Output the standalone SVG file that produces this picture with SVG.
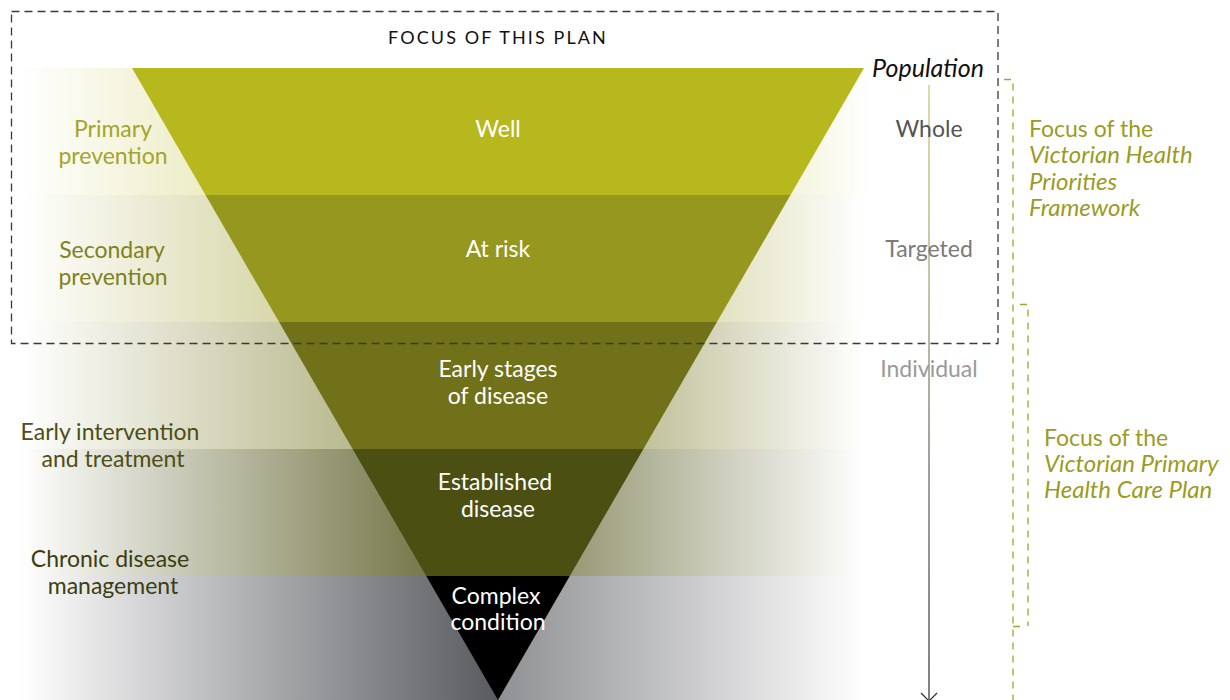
<svg xmlns="http://www.w3.org/2000/svg" width="1230" height="700" viewBox="0 0 1230 700">
  <defs>
    <style>
      .t { font-family: Lato, "Noto Sans", sans-serif; font-size: 23px; }
      .c { text-anchor: middle; }
      .w { fill: #ffffff; }
      .it { font-style: italic; font-size: 24px; }
      .focus { fill: #9a9c1f; }
      .dash-box { fill: none; stroke: #3a3a3a; stroke-width: 1.3; stroke-dasharray: 8 5; }
      .dash-g { fill: none; stroke: #a3a52a; stroke-width: 1.3; stroke-dasharray: 7 6; }
    </style>
    <linearGradient id="l1" gradientUnits="userSpaceOnUse" x1="20" y1="0" x2="498" y2="0">
      <stop offset="0" stop-color="#b7b81d" stop-opacity="0"/>
      <stop offset="1" stop-color="#b7b81d" stop-opacity="0.65"/>
    </linearGradient>
    <linearGradient id="r1" gradientUnits="userSpaceOnUse" x1="498" y1="0" x2="870" y2="0">
      <stop offset="0" stop-color="#b7b81d" stop-opacity="0.7"/>
      <stop offset="1" stop-color="#b7b81d" stop-opacity="0"/>
    </linearGradient>
    <linearGradient id="l2" gradientUnits="userSpaceOnUse" x1="20" y1="0" x2="498" y2="0">
      <stop offset="0" stop-color="#95971e" stop-opacity="0"/>
      <stop offset="1" stop-color="#95971e" stop-opacity="0.7"/>
    </linearGradient>
    <linearGradient id="r2" gradientUnits="userSpaceOnUse" x1="498" y1="0" x2="865" y2="0">
      <stop offset="0" stop-color="#95971e" stop-opacity="0.7"/>
      <stop offset="1" stop-color="#95971e" stop-opacity="0"/>
    </linearGradient>
    <linearGradient id="l3" gradientUnits="userSpaceOnUse" x1="20" y1="0" x2="498" y2="0">
      <stop offset="0" stop-color="#707118" stop-opacity="0"/>
      <stop offset="1" stop-color="#707118" stop-opacity="0.7"/>
    </linearGradient>
    <linearGradient id="r3" gradientUnits="userSpaceOnUse" x1="498" y1="0" x2="865" y2="0">
      <stop offset="0" stop-color="#707118" stop-opacity="0.72"/>
      <stop offset="1" stop-color="#707118" stop-opacity="0"/>
    </linearGradient>
    <linearGradient id="l4" gradientUnits="userSpaceOnUse" x1="20" y1="0" x2="498" y2="0">
      <stop offset="0" stop-color="#4b4f12" stop-opacity="0"/>
      <stop offset="1" stop-color="#4b4f12" stop-opacity="0.9"/>
    </linearGradient>
    <linearGradient id="r4" gradientUnits="userSpaceOnUse" x1="498" y1="0" x2="865" y2="0">
      <stop offset="0" stop-color="#4b4f12" stop-opacity="0.72"/>
      <stop offset="1" stop-color="#4b4f12" stop-opacity="0"/>
    </linearGradient>
    <linearGradient id="l5" gradientUnits="userSpaceOnUse" x1="20" y1="0" x2="498" y2="0">
      <stop offset="0" stop-color="#1e2126" stop-opacity="0"/>
      <stop offset="1" stop-color="#1e2126" stop-opacity="0.74"/>
    </linearGradient>
    <linearGradient id="r5" gradientUnits="userSpaceOnUse" x1="498" y1="0" x2="865" y2="0">
      <stop offset="0" stop-color="#1e2126" stop-opacity="0.5"/>
      <stop offset="1" stop-color="#1e2126" stop-opacity="0"/>
    </linearGradient>
    <linearGradient id="popline" gradientUnits="userSpaceOnUse" x1="0" y1="85" x2="0" y2="700">
      <stop offset="0" stop-color="#c4c55a"/>
      <stop offset="0.35" stop-color="#9a9a6a"/>
      <stop offset="0.55" stop-color="#6a6a62"/>
      <stop offset="1" stop-color="#2a2a2a"/>
    </linearGradient>
  </defs>

  <rect width="1230" height="700" fill="#ffffff"/>

  <!-- background bands -->
  <g id="bands">
    <rect x="20" y="68" width="478" height="127" fill="url(#l1)"/>
    <rect x="498" y="68" width="372" height="127" fill="url(#r1)"/>
    <rect x="20" y="195" width="478" height="127" fill="url(#l2)"/>
    <rect x="498" y="195" width="367" height="127" fill="url(#r2)"/>
    <rect x="20" y="322" width="478" height="127" fill="url(#l3)"/>
    <rect x="498" y="322" width="367" height="127" fill="url(#r3)"/>
    <rect x="20" y="449" width="478" height="127" fill="url(#l4)"/>
    <rect x="498" y="449" width="367" height="127" fill="url(#r4)"/>
    <rect x="20" y="576" width="478" height="124" fill="url(#l5)"/>
    <rect x="498" y="576" width="367" height="124" fill="url(#r5)"/>
  </g>

  <!-- triangle segments -->
  <g id="well">
    <polygon points="132,68 864,68 790.5,195 205.5,195" fill="#b7b81d"/>
    <text class="t c w" x="498" y="137">Well</text>
  </g>
  <g id="at-risk">
    <polygon points="205.5,195 790.5,195 716.9,322 279.1,322" fill="#95971e"/>
    <text class="t c w" x="498" y="257">At risk</text>
  </g>
  <g id="early-stages">
    <polygon points="279.1,322 716.9,322 643.4,449 352.6,449" fill="#707118"/>
    <text class="t c w" x="498" y="377">Early stages</text>
    <text class="t c w" x="498" y="404">of disease</text>
  </g>
  <g id="established">
    <polygon points="352.6,449 643.4,449 569.8,576 426.2,576" fill="#4b4f12"/>
    <text class="t c w" x="495" y="490">Established</text>
    <text class="t c w" x="498" y="517">disease</text>
  </g>
  <g id="complex">
    <polygon points="426.2,576 569.8,576 498,700" fill="#000000"/>
    <text class="t c w" x="496" y="604">Complex</text>
    <text class="t c w" x="498" y="630">condition</text>
  </g>

  <!-- left labels -->
  <g id="primary-prevention">
    <text class="t c" x="113" y="137" fill="#a3a52b">Primary</text>
    <text class="t c" x="113" y="164" fill="#a3a52b">prevention</text>
  </g>
  <g id="secondary-prevention">
    <text class="t c" x="112" y="258" fill="#7f821d">Secondary</text>
    <text class="t c" x="113" y="285" fill="#7f821d">prevention</text>
  </g>
  <g id="early-intervention">
    <text class="t c" x="110" y="440" fill="#4c4f16">Early intervention</text>
    <text class="t c" x="113" y="467" fill="#4c4f16">and treatment</text>
  </g>
  <g id="chronic-disease">
    <text class="t c" x="110" y="567" fill="#3b3e12">Chronic disease</text>
    <text class="t c" x="113" y="594" fill="#3b3e12">management</text>
  </g>

  <!-- focus of this plan box -->
  <g id="focus-plan">
    <rect class="dash-box" x="11.5" y="11.5" width="986.5" height="332"/>
    <text x="498" y="44" text-anchor="middle" font-family="Lato, 'Noto Sans', sans-serif" font-size="18" letter-spacing="2.1" fill="#111111">FOCUS OF THIS PLAN</text>
  </g>

  <!-- connectors -->
  <g id="connectors">
    <line x1="929" y1="85" x2="929" y2="701" stroke="url(#popline)" stroke-width="1.2"/>
    <path d="M921,693 L929,701 L937,693" fill="none" stroke="#2a2a2a" stroke-width="1.2"/>
    <path class="dash-g" d="M1004,79.5 H1013 V700"/>
    <path class="dash-g" d="M1020,304.5 H1028 V626 M1013,626.5 H1022"/>
  </g>

  <!-- population scale -->
  <g id="population">
    <text class="t it c" x="928" y="77" fill="#111111" style="font-size:25px">Population</text>
    <text class="t c" x="929" y="137" fill="#555555">Whole</text>
    <text class="t c" x="929" y="257" fill="#7a7a7a">Targeted</text>
    <text class="t c" x="929" y="377" fill="#9a9a9a">Individual</text>
  </g>

  <!-- focus labels -->
  <g id="focus-framework">
    <text class="t focus" x="1029" y="137">Focus of the</text>
    <text class="t focus it" x="1029" y="163">Victorian Health</text>
    <text class="t focus it" x="1029" y="190">Priorities</text>
    <text class="t focus it" x="1029" y="216">Framework</text>
  </g>
  <g id="focus-primary-care">
    <text class="t focus" x="1044" y="446">Focus of the</text>
    <text class="t focus it" x="1044" y="472">Victorian Primary</text>
    <text class="t focus it" x="1044" y="498">Health Care Plan</text>
  </g>
</svg>
